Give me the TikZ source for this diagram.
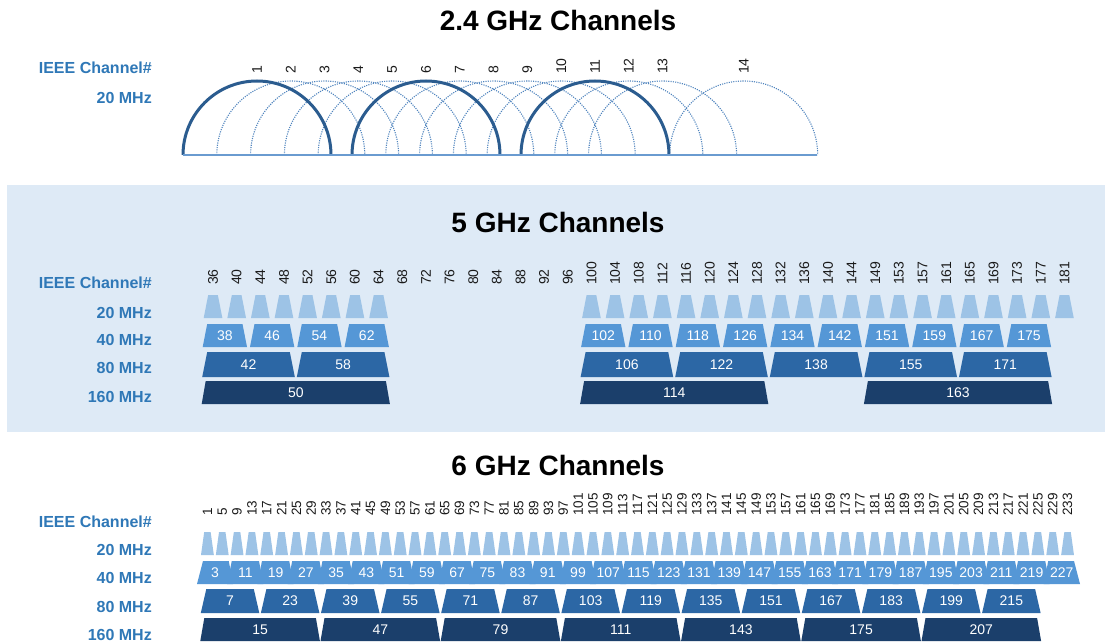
\documentclass[tikz,border=0pt]{standalone}
\usepackage{fontspec}
\setmainfont{Liberation Sans}
\definecolor{lblue}{HTML}{2F78B7}
\definecolor{bandbg}{HTML}{DEEAF6}
\definecolor{cA}{HTML}{9DC3E6}
\definecolor{cB}{HTML}{5597D6}
\definecolor{cC}{HTML}{2C67A5}
\definecolor{cD}{HTML}{1B3F6B}
\definecolor{arcdark}{HTML}{2B5C8F}
\definecolor{arcdot}{HTML}{4F84BE}
\definecolor{baseln}{HTML}{6A9BD0}
\definecolor{numtxt}{HTML}{1A1A1A}
\tikzset{
  ttl/.style={font=\fontsize{28}{30}\selectfont\bfseries, text=black, inner sep=0pt},
  rowlbl/.style={font=\fontsize{16}{18}\selectfont\bfseries, text=lblue, anchor=east, inner sep=0pt},
  chnum/.style={font=\fontsize{14}{15}\selectfont, text=numtxt, rotate=90, anchor=west, inner sep=0pt},
  chnumsmall/.style={chnum, font=\fontsize{13.5}{14}\selectfont},
  blklbl/.style={font=\fontsize{14}{15}\selectfont, text=white, inner sep=0pt},
  dotarc/.style={draw=arcdot, line width=1.1pt, dash pattern=on 1.1pt off 1.2pt},
  thickarc/.style={draw=arcdark, line width=3pt},
  baseline24/.style={draw=baseln, line width=2pt},
}
\newcommand{\trap}[6]{\fill[#6] (#1,#4) -- ({#1+#5},#3) -- ({#2-#5},#3) -- (#2,#4) -- cycle;}
\begin{document}
\begin{tikzpicture}[x=1pt,y=-1pt]
\useasboundingbox (0,0) rectangle (1105,642);
\fill[white] (0,0) rectangle (1105,642);
\fill[bandbg] (7,185) rectangle (1105,432);

% titles
\node[ttl] (t24) at (558,20) {2.4 GHz Channels};
\node[ttl] (t5) at (558,222) {5 GHz Channels};
\node[ttl] (t6) at (558,465) {6 GHz Channels};

% row labels
\node[rowlbl] (l24ch) at (152,68) {IEEE Channel\#};
\node[rowlbl] (l24a) at (152,98) {20 MHz};
\node[rowlbl] (l5ch) at (152,283) {IEEE Channel\#};
\node[rowlbl] (l5a) at (152,313) {20 MHz};
\node[rowlbl] (l5b) at (152,340) {40 MHz};
\node[rowlbl] (l5c) at (152,368) {80 MHz};
\node[rowlbl] (l5d) at (152,397) {160 MHz};
\node[rowlbl] (l6ch) at (152,522) {IEEE Channel\#};
\node[rowlbl] (l6a) at (152,550) {20 MHz};
\node[rowlbl] (l6b) at (152,578) {40 MHz};
\node[rowlbl] (l6c) at (152,607) {80 MHz};
\node[rowlbl] (l6d) at (152,635) {160 MHz};

% ---------- 2.4 GHz ----------
\foreach \n in {2,3,4,5,7,8,9,10,12,13} {
  \pgfmathsetmacro{\cx}{257+(\n-1)*33.8}
  \coordinate (a\n) at ({\cx-74},155);
  \draw[dotarc] (a\n) arc[start angle=180,end angle=0,radius=74pt];
}
\coordinate (a14) at (669.7,155);
\draw[dotarc] (a14) arc[start angle=180,end angle=0,radius=74pt];
\foreach \n in {1,6,11} {
  \pgfmathsetmacro{\cx}{257+(\n-1)*33.8}
  \coordinate (a\n) at ({\cx-74},155);
  \draw[thickarc] (a\n) arc[start angle=180,end angle=0,radius=74pt];
}
\coordinate (b0) at (183,155);
\coordinate (b1) at (817,155);
\draw[baseline24] (b0) -- (b1);
\foreach \n in {1,...,13} {
  \pgfmathsetmacro{\cx}{257+(\n-1)*33.8}
  \node[chnum] (n24-\n) at (\cx,74) {\n};
}
\node[chnum] (n24-14) at (743.7,74) {14};

% ---------- 5 GHz ----------
\def\Lf{201.2}
\def\sf{23.65}
\foreach \c [count=\k from 0] in {36,40,44,48,52,56,60,64,68,72,76,80,84,88,92,96,100,104,108,112,116,120,124,128,132,136,140,144,149,153,157,161,165,169,173,177,181} {
  \pgfmathsetmacro{\cx}{\Lf+(\k+0.5)*\sf}
  \node[chnum] (n5-\c) at (\cx,285) {\c};
}
\foreach \a/\b in {0/7,16/36} {
  \foreach \k in {\a,...,\b} {
    \pgfmathsetmacro{\xa}{\Lf+\k*\sf+2.5}
    \pgfmathsetmacro{\xb}{\Lf+(\k+1)*\sf-2.5}
    \trap{\xa}{\xb}{295}{318}{4.5}{cA}
  }
}
\foreach \k/\l in {0/38,2/46,4/54,6/62,16/102,18/110,20/118,22/126,24/134,26/142,28/151,30/159,32/167,34/175} {
  \pgfmathsetmacro{\xa}{\Lf+\k*\sf+1.5}
  \pgfmathsetmacro{\xb}{\Lf+(\k+2)*\sf-1.5}
  \trap{\xa}{\xb}{324}{347}{4.5}{cB}
  \node[blklbl] (w5b-\l) at ({(\xa+\xb)/2},335.5) {\l};
}
\foreach \k/\l in {0/42,4/58,16/106,20/122,24/138,28/155,32/171} {
  \pgfmathsetmacro{\xa}{\Lf+\k*\sf+1}
  \pgfmathsetmacro{\xb}{\Lf+(\k+4)*\sf-1}
  \trap{\xa}{\xb}{352}{377}{5}{cC}
  \node[blklbl] (w5c-\l) at ({(\xa+\xb)/2},364.5) {\l};
}
\foreach \k/\l in {0/50,16/114,28/163} {
  \pgfmathsetmacro{\xa}{\Lf+\k*\sf+0.5}
  \pgfmathsetmacro{\xb}{\Lf+(\k+8)*\sf-0.5}
  \trap{\xa}{\xb}{381}{404}{4}{cD}
  \node[blklbl] (w5d-\l) at ({(\xa+\xb)/2},392.5) {\l};
}

% ---------- 6 GHz ----------
\foreach \c [count=\k from 0] in {1,5,...,233} {
  \pgfmathsetmacro{\cx}{200+(\k+0.5)*14.83}
  \node[chnumsmall] (n6-\c) at (\cx,516) {\c};
}
\foreach \k in {0,...,58} {
  \pgfmathsetmacro{\xa}{200+\k*14.83+1}
  \pgfmathsetmacro{\xb}{200+(\k+1)*14.83-1}
  \trap{\xa}{\xb}{532}{555}{3.2}{cA}
}
\foreach \k in {0,...,28} {
  \pgfmathtruncatemacro{\l}{3+8*\k}
  \pgfmathsetmacro{\xo}{200+\k*30.24}
  \pgfmathsetmacro{\xe}{\xo+30.24}
  \pgfmathsetmacro{\bl}{\k==0 ? 197 : \xo-3}
  \pgfmathsetmacro{\tl}{\k==0 ? 203 : \xo+1.5}
  \pgfmathsetmacro{\br}{\k==28 ? 1080 : \xe+3}
  \pgfmathsetmacro{\tr}{\k==28 ? 1074 : \xe-1.5}
  \fill[cB] (\bl,584) -- (\tl,561) -- (\tr,561) -- (\br,584) -- cycle;
  \node[blklbl] (w6b-\l) at ({(\xo+\xe)/2},572.5) {\l};
}
\foreach \k in {0,...,13} {
  \pgfmathtruncatemacro{\l}{7+16*\k}
  \pgfmathsetmacro{\xa}{200+\k*60.1+0.8}
  \pgfmathsetmacro{\xb}{200+(\k+1)*60.1-0.8}
  \trap{\xa}{\xb}{589}{613}{5.5}{cC}
  \node[blklbl] (w6c-\l) at ({(\xa+\xb)/2},601) {\l};
}
\foreach \k in {0,...,6} {
  \pgfmathtruncatemacro{\l}{15+32*\k}
  \pgfmathsetmacro{\xa}{200+\k*120.2+0.3}
  \pgfmathsetmacro{\xb}{200+(\k+1)*120.2-0.3}
  \trap{\xa}{\xb}{618}{641}{4}{cD}
  \node[blklbl] (w6d-\l) at ({(\xa+\xb)/2},629.5) {\l};
}
\end{tikzpicture}
\end{document}
